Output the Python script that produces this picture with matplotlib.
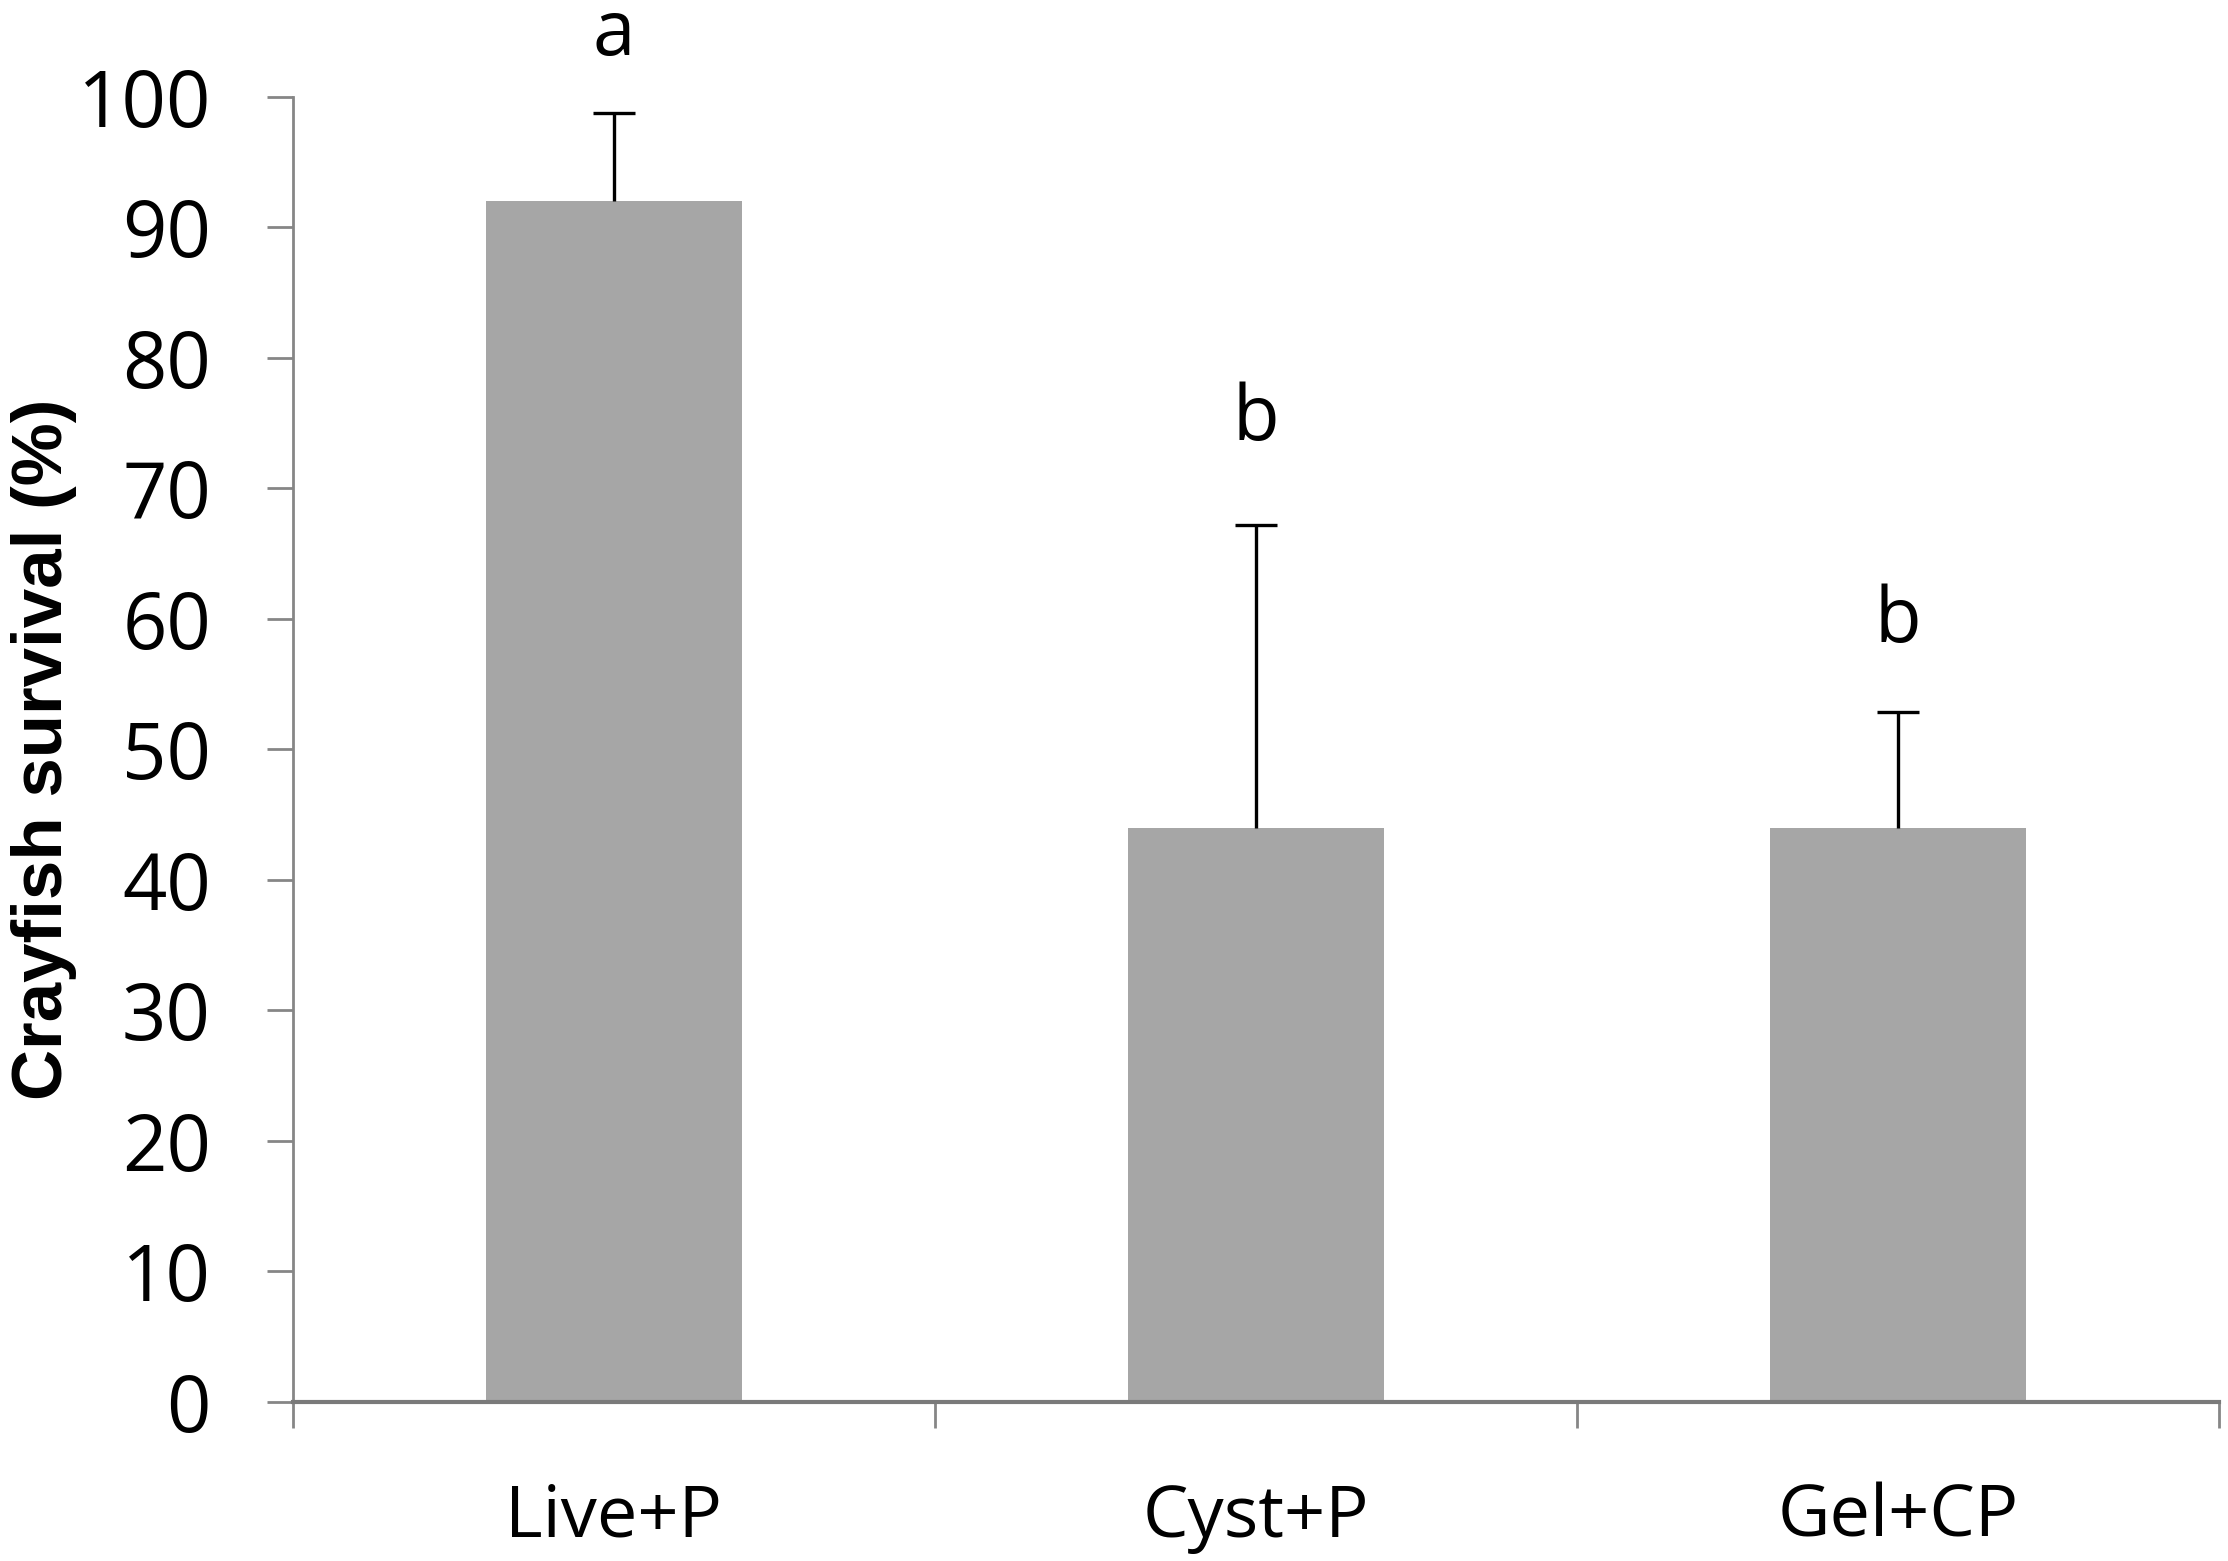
import matplotlib
matplotlib.use("Agg")
import matplotlib.pyplot as plt
import numpy as np

# --- data ---
groups = ["Live+P", "Cyst+P", "Gel+CP"]
survival = [92.0, 44.0, 44.0]
err_up = [6.8, 23.2, 8.9]
letters = ["a", "b", "b"]
letter_y = [103.2, 73.7, 58.2]
y_ticks = [0, 10, 20, 30, 40, 50, 60, 70, 80, 90, 100]

BAR_COLOR = "#a6a6a6"
AXIS_COLOR = "#868686"
TICK_FONT = "Open Sans"

fig = plt.figure(figsize=(22.28, 15.61), dpi=100)
ax = fig.add_axes([0.1315, 0.1019, 0.9960 - 0.1315, 0.9379 - 0.1019])

x = np.arange(len(groups)) + 0.5
ax.bar(x, survival, width=0.4, color=BAR_COLOR, zorder=2)
eb = ax.errorbar(x, survival, yerr=[np.zeros(len(groups)), err_up], fmt="none",
                 ecolor="black", elinewidth=2.4, capsize=15, capthick=2.4, zorder=3)
# only the upper cap, like the original
for cap in eb[1]:
    if np.allclose(cap.get_ydata(), survival):
        cap.set_visible(False)

for xi, lab, ly in zip(x, letters, letter_y):
    ax.text(xi, ly, lab, ha="center", va="baseline", fontsize=55,
            family=TICK_FONT, color="black", clip_on=False)

ax.set_xlim(0, len(groups))
ax.set_ylim(0, 100)

# y axis
ax.set_yticks(y_ticks)
ax.set_yticklabels([str(v) for v in y_ticks], family=TICK_FONT, fontsize=56)
ax.tick_params(axis="y", direction="out", length=19, width=2, color=AXIS_COLOR, pad=40)

# x axis: Excel-style ticks between categories, labels centred under bars
ax.set_xticks(np.arange(len(groups) + 1))
ax.set_xticklabels([])
ax.set_xticks(x, minor=True)
ax.set_xticklabels(groups, minor=True, family=TICK_FONT, fontsize=52)
ax.tick_params(axis="x", which="major", direction="out", length=19, width=2, color=AXIS_COLOR)
ax.tick_params(axis="x", which="minor", length=0, pad=58)

for side in ["top", "right"]:
    ax.spines[side].set_visible(False)
ax.spines["left"].set_color(AXIS_COLOR)
ax.spines["left"].set_linewidth(2)
ax.spines["bottom"].set_color("#7a7a7a")
ax.spines["bottom"].set_linewidth(3)
ax.spines["bottom"].set_zorder(4)

ax.set_ylabel("Crayfish survival (%)", family="Liberation Sans", fontweight="bold",
              fontsize=51)
ax.yaxis.set_label_coords(-0.112, 0.5)

fig.savefig("out.png", dpi=100, facecolor="white")
